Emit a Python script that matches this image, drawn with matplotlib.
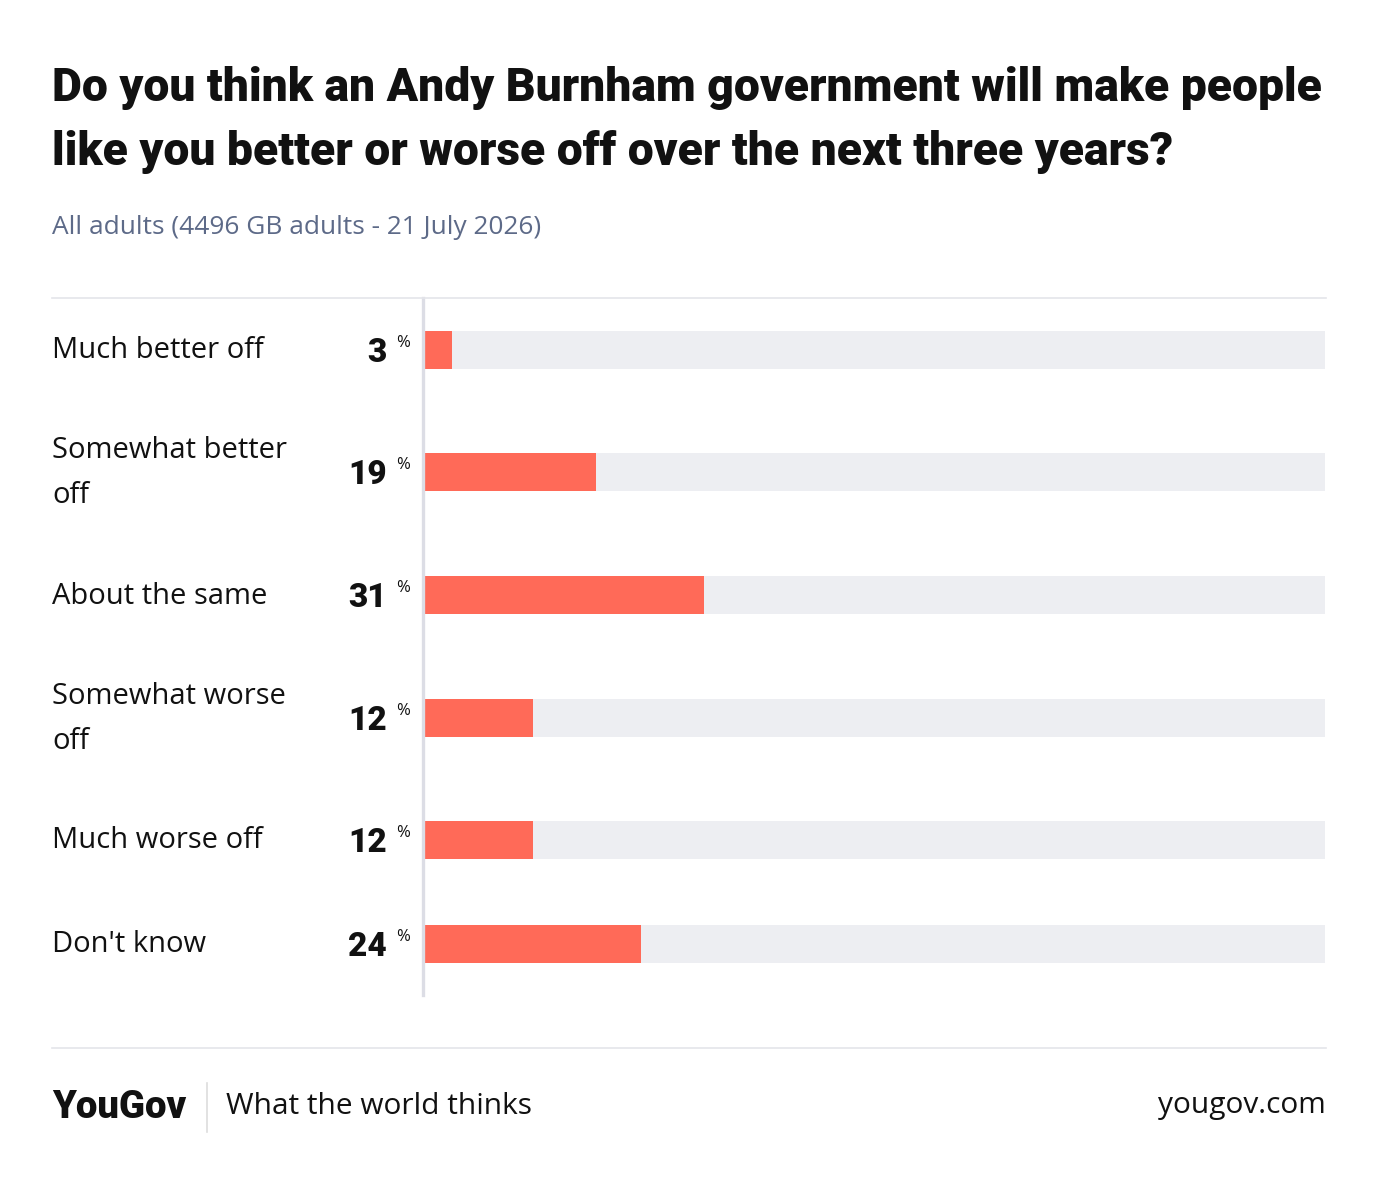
import matplotlib
matplotlib.use("Agg")
import matplotlib.pyplot as plt
from matplotlib.transforms import blended_transform_factory
from matplotlib.lines import Line2D

# data
categories = ["Much better off", "Somewhat better\noff", "About the same",
              "Somewhat worse\noff", "Much worse off", "Don't know"]
values = [3, 19, 31, 12, 12, 24]

title = ("Do you think an Andy Burnham government will make people\n"
         "like you better or worse off over the next three years?")
subtitle = "All adults (4496 GB adults - 21 July 2026)"

W, H = 1378, 1186
BAR = "#ff6a58"
TRACK = "#edeef2"
GRID = "#dcdde5"
HEAVY = "Roboto"
BODY = "Open Sans"

# row centres in pixels (layout only)
row_y = [350, 472, 595, 718, 840, 944]

fig = plt.figure(figsize=(W / 100, H / 100), dpi=100)
fig.patch.set_facecolor("white")


def fx(px):
    return px / W


def fy(py):
    return 1 - py / H


# bar axes: x 425..1325 px, y 298..995 px
ax = fig.add_axes([fx(425), fy(995), fx(1325) - fx(425), fy(298) - fy(995)])
ax.set_xlim(0, 100)
ax.set_ylim(995, 298)
ax.axis("off")

ax.barh(row_y, [100] * len(values), height=38, color=TRACK, left=0)
ax.barh(row_y, values, height=38, color=BAR, left=0)

# vertical axis line
fig.add_artist(Line2D([fx(423), fx(423)], [fy(298), fy(995)], color=GRID, lw=2.4))
# top / bottom rules
fig.add_artist(Line2D([fx(52), fx(1326)], [fy(298), fy(298)], color="#e4e5ea", lw=1.2))
fig.add_artist(Line2D([fx(52), fx(1326)], [fy(1048), fy(1048)], color="#e4e5ea", lw=1.2))

tr = blended_transform_factory(fig.transFigure, ax.transData)
for y, cat, v in zip(row_y, categories, values):
    ax.text(fx(52), y + 1, cat, transform=tr, ha="left", va="center",
            fontsize=21, family=BODY, fontweight="medium", color="#111111",
            linespacing=1.7)
    ax.text(fx(387), y + 3, str(v), transform=tr, ha="right", va="center",
            fontsize=24, family=HEAVY, fontweight="black", color="#111111")
    ax.text(fx(396), y - 7, "%", transform=tr, ha="left", va="center",
            fontsize=12, family=BODY, color="#111111")

fig.text(fx(52), fy(120), title, ha="left", va="center", fontsize=33.3,
         family=HEAVY, fontweight="black", color="#111111", linespacing=1.56)
fig.text(fx(52), fy(227), subtitle, ha="left", va="center", fontsize=18.9,
         family=BODY, color="#5d6a88")

# footer
fig.text(fx(52), fy(1108), "YouGov", ha="left", va="center", fontsize=27.5,
         family=HEAVY, fontweight="black", color="#111111")
fig.add_artist(Line2D([fx(207), fx(207)], [fy(1083), fy(1132)], color="#dddddd", lw=1.2))
fig.text(fx(226), fy(1106), "What the world thinks", ha="left", va="center",
         fontsize=21.5, family=BODY, color="#111111")
fig.text(fx(1326), fy(1106), "yougov.com", ha="right", va="center",
         fontsize=21.5, family=BODY, color="#111111")

fig.savefig("out.png", dpi=100, facecolor="white")
